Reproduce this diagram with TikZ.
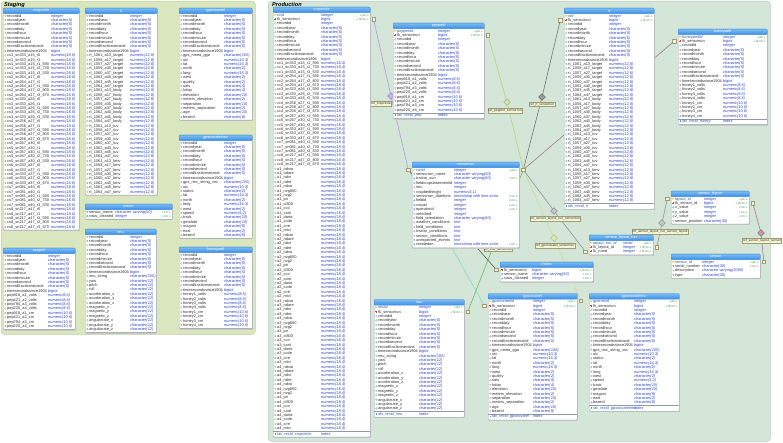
\documentclass[tikz,border=0pt]{standalone}
\usepackage{fontspec}
\setmainfont{Liberation Sans}
\usetikzlibrary{shapes.geometric}
\pgfdeclarelayer{bg}
\pgfdeclarelayer{edges}
\pgfdeclarelayer{tb}
\pgfsetlayers{bg,edges,tb,main}
\definecolor{stgfill}{HTML}{D9E6BE}
\definecolor{stgdraw}{HTML}{C2D2A0}
\definecolor{prdfill}{HTML}{D3E6D8}
\definecolor{prddraw}{HTML}{B5CCBA}
\definecolor{hdrA}{HTML}{7BBDF6}
\definecolor{hdrB}{HTML}{3A8DE2}
\definecolor{tbord}{HTML}{8F9CA8}
\definecolor{nmcol}{HTML}{2E2E2E}
\definecolor{tycol}{HTML}{2B42C0}
\definecolor{pkcol}{HTML}{2456B8}
\definecolor{mkcol}{HTML}{3A8A3A}
\definecolor{icgray}{HTML}{9A9A9A}
\definecolor{icblue}{HTML}{5A8FD8}
\definecolor{keyy}{HTML}{F2C21E}
\definecolor{fkred}{HTML}{D9432E}
\definecolor{lblfill}{HTML}{F6F6D2}
\definecolor{lblline}{HTML}{9C9C78}
\definecolor{cLil}{HTML}{B48EE6}
\definecolor{cYg}{HTML}{B8D070}
\definecolor{cGr}{HTML}{6E6E6E}
\definecolor{cMv}{HTML}{A8708A}
\definecolor{cLg}{HTML}{8E8E8E}
\definecolor{cLy}{HTML}{D2DA8E}
\definecolor{cGn}{HTML}{5CB85C}
\definecolor{cDk}{HTML}{555555}
\definecolor{cTl}{HTML}{86D6C6}
\tikzset{
  nmbase/.style={anchor=base west, inner sep=0pt, font=\fontsize{3.9}{3.9}\selectfont},
  nmn/.style={nmbase, text=nmcol},
  nmb/.style={nmbase, text=nmcol},
  nmf/.style={nmbase, text=nmcol},
  nmp/.style={nmbase, text=pkcol, font=\fontsize{3.9}{3.9}\selectfont\itshape},
  nmi/.style={nmbase, text=pkcol, font=\fontsize{3.9}{3.9}\selectfont\itshape},
  ty/.style={anchor=base west, inner sep=0pt, text=tycol, font=\fontsize{3.9}{3.9}\selectfont\itshape},
  mkr/.style={anchor=base east, inner sep=0pt, text=mkcol, font=\fontsize{3.1}{3.1}\selectfont},
  hdr/.style={top color=hdrA, bottom color=hdrB, draw=hdrB, line width=0.3pt, text=white,
    inner sep=0pt, rounded corners=0.8pt, font=\fontsize{3.8}{3.8}\selectfont},
  tbody/.style={draw=tbord, fill=white, line width=0.35pt, inner sep=0pt, rounded corners=0.8pt},
  shad/.style={fill=black!22},
  icg/.style={draw=icgray, line width=0.25pt},
  icb/.style={draw=icblue, line width=0.3pt},
  sepl/.style={draw=tbord, line width=0.3pt},
  mkbox/.style={rectangle, draw=lblline, fill=lblfill, line width=0.25pt, minimum width=3.4pt, minimum height=3.4pt, inner sep=0pt},
  dia/.style={diamond, aspect=1, minimum size=7pt, inner sep=0pt, line width=0.3pt},
  lbl/.style={fill=lblfill, draw=lblline, line width=0.25pt, inner sep=0.6pt, text=nmcol, font=\fontsize{3.3}{3.3}\selectfont},
  rel/.style={line width=0.55pt},
  ptitle/.style={anchor=west, inner sep=0pt, font=\fontsize{5.6}{5.6}\selectfont\bfseries\itshape}
}
\catcode`\_=12
\newcounter{rc}
\newcommand\ICn[2]{\draw[icg] (#1,#2) circle (0.85pt);}
\newcommand\ICb[2]{\draw[icb] (#1,#2) circle (0.85pt);}
\newcommand\ICf[2]{\fill[fkred] (#1,#2) ++(-1,-0.35) rectangle ++(2,0.7); \fill[fkred] (#1,#2) ++(-0.35,-1) rectangle ++(0.7,2);}
\newcommand\ICp[2]{\fill[keyy] (#1,#2) ++(-1.1,-1) -- ++(2.3,1) -- ++(-2.3,1) -- cycle;}
\newcommand\ICi[2]{\fill[icblue] (#1,#2) ++(-0.9,-0.9) rectangle ++(1.8,1.8);}
\newcommand\tabS[6]{%
  \gdef\Qn{#1}\gdef\Qx{#2}\gdef\Qy{#3}\gdef\Qw{#4}\gdef\Qo{#5}\gdef\Qix{0}%
  \setcounter{rc}{0}%
  \node[hdr, minimum width=#4pt, minimum height=5.5pt, anchor=north west] (#1h) at (#2,#3) {#6};%
}
\newcommand\tabR[4]{%
  \stepcounter{rc}%
  \pgfmathsetmacro\Qry{\Qy+5.5+(\number\value{rc}-0.5)*4.4}%
  \csname IC#1\endcsname{\Qx+2.4}{\Qry}%
  \node[nm#1] (\Qn n\number\value{rc}) at (\Qx+4.0,\Qry+1.4) {#2};%
  \node[ty] (\Qn t\number\value{rc}) at (\Qx+\Qo,\Qry+1.4) {#3};%
  \node[mkr] (\Qn m\number\value{rc}) at (\Qx+\Qw-1.3,\Qry+1.4) {#4};%
}
\newcommand\tabI[1]{%
  \pgfmathsetmacro\Qry{\Qy+5.5+\number\value{rc}*4.4}%
  \draw[sepl] (\Qx,\Qry+0.6) -- (\Qx+\Qw,\Qry+0.6);%
  \ICi{\Qx+2.4}{\Qry+3.1}%
  \node[nmi] (\Qn ix) at (\Qx+4.0,\Qry+4.5) {#1};%
  \node[ty] (\Qn it) at (\Qx+\Qo,\Qry+4.5) {index};%
  \gdef\Qix{5.5}%
}
\newcommand\tabE{%
  \pgfmathsetmacro\Qh{5.5+\number\value{rc}*4.4+\Qix+0.9}%
  \begin{pgfonlayer}{tb}%
    \fill[shad] (\Qx+1.3,\Qy+1.3) rectangle ++(\Qw,\Qh);%
    \node[tbody, minimum width=\Qw pt, minimum height=\Qh pt, anchor=north west] (\Qn) at (\Qx,\Qy) {};%
  \end{pgfonlayer}%
}
\newcommand\baseRows{%
  \tabR{n}{recordid}{integer}{}%
  \tabR{n}{recordyear}{character(5)}{}%
  \tabR{n}{recordmonth}{character(5)}{}%
  \tabR{n}{recordday}{character(5)}{}%
  \tabR{n}{recordhour}{character(5)}{}%
  \tabR{n}{recordminute}{character(5)}{}%
  \tabR{n}{recordsecond}{character(5)}{}%
  \tabR{n}{recordfractionsecond}{character(5)}{}%
  \tabR{n}{timesecondssince1904}{bigint}{}%
}
\newcommand\keyRows[1]{%
  \tabR{p}{#1}{integer}{« pk »}%
  \tabR{f}{fk_sensorrun}{bigint}{« fk nn »}%
}
\newcommand\imuRows{%
  \tabR{n}{imu_string}{character(100)}{}%
  \foreach \ga in {yaw,pitch,roll,acceleration_x,acceleration_y,acceleration_z,magnetic_x,magnetic_y,magnetic_z,angularrate_x,angularrate_y,angularrate_z}{\tabR{n}{\ga}{character(12)}{}}%
}
\newcommand\pepRows{%
  \foreach \ga in {pep918_a1,pep421_a2,pep794_a3,pep220_a4}{\tabR{n}{\ga_volts}{numeric(8,6)}{}}%
  \foreach \ga in {pep918_a1,pep421_a2,pep794_a3,pep220_a4}{\tabR{n}{\ga_cm}{numeric(10,6)}{}}%
}
\newcommand\honRows{%
  \foreach \ga in {1,2,3,4}{\tabR{n}{honey\ga_volts}{numeric(8,6)}{}}%
  \foreach \ga in {1,2,3,4}{\tabR{n}{honey\ga_cm}{numeric(10,6)}{}}%
}
\newcommand\ggaRows{%
  \tabR{n}{gps_nmea_gga}{character(100)}{}%
  \tabR{n}{utc}{numeric(10,3)}{}%
  \tabR{n}{lat}{numeric(16,3)}{}%
  \tabR{n}{north}{character(2)}{}%
  \tabR{n}{long}{numeric(16,3)}{}%
  \tabR{n}{west}{character(2)}{}%
  \tabR{n}{quality}{character(2)}{}%
  \tabR{n}{sats}{character(4)}{}%
  \tabR{n}{hdop}{character(4)}{}%
  \tabR{n}{elevation}{character(10)}{}%
  \tabR{n}{meters_elevation}{character(2)}{}%
  \tabR{n}{separation}{character(10)}{}%
  \tabR{n}{meters_separation}{character(2)}{}%
  \tabR{n}{age}{character(10)}{}%
  \tabR{n}{baseid}{character(8)}{}%
}
\newcommand\rmcRows{%
  \tabR{n}{gps_rmc_string_vnc}{character(100)}{}%
  \tabR{n}{utc}{numeric(10,3)}{}%
  \tabR{n}{status}{character(2)}{}%
  \tabR{n}{lat}{numeric(16,3)}{}%
  \tabR{n}{north}{character(2)}{}%
  \tabR{n}{long}{numeric(16,3)}{}%
  \tabR{n}{west}{character(2)}{}%
  \tabR{n}{speed}{numeric(5,2)}{}%
  \tabR{n}{track}{character(10)}{}%
  \tabR{n}{geodate}{character(10)}{}%
  \tabR{n}{magvar}{character(8)}{}%
  \tabR{n}{east}{character(2)}{}%
  \tabR{n}{baseid}{character(8)}{}%
}
\newcommand\rtRows{%
  \foreach \gb in {target,body,tuv,bmv}{%
    \foreach \ga in {1061_a13,1058_a17,1057_a27,1059_a30,1060_a37,1062_a40,1063_a45,1064_a47}{\tabR{n}{rt_\ga_\gb}{numeric(12,8)}{}}}%
}
\begin{document}
\begin{tikzpicture}[x=1pt,y=-1pt]
\useasboundingbox (0,0) rectangle (783,443);
\begin{pgfonlayer}{bg}
  \fill[white] (0,0) rectangle (783,443);
  \node[draw=stgdraw, fill=stgfill, rounded corners=3pt, line width=0.5pt, minimum width=254pt, minimum height=333pt, anchor=north west, inner sep=0pt] (stg) at (1,1) {};
  \node[draw=prddraw, fill=prdfill, rounded corners=3pt, line width=0.5pt, minimum width=502pt, minimum height=440pt, anchor=north west, inner sep=0pt] (prd) at (268,1) {};
  \node[ptitle] (stgT) at (4,5) {Staging};
  \node[ptitle] (prdT) at (272,5) {Production};
\end{pgfonlayer}

% ---------------- relationships ----------------
\begin{pgfonlayer}{edges}
  \node[mkbox] (mC) at (373.5,19.1) {};
  \node[mkbox] (mP) at (487.8,35.1) {};
  \node[mkbox] (mR) at (560.3,20.1) {};
  \node[mkbox] (mH) at (674.3,41.1) {};
  \node[mkbox] (mL) at (408.3,169.7) {};
  \node[mkbox] (mJ) at (523.3,169.7) {};
  \node[mkbox] (mE) at (496.3,269.7) {};
  \node[mkbox] (mI) at (467.8,311.6) {};
  \node[mkbox] (mG) at (484.3,305.6) {};
  \node[mkbox] (mG2) at (580.8,300.5) {};
  \node[mkbox] (mS) at (585.3,251.5) {};
  \node[mkbox] (mS2) at (656.8,247.1) {};
  \node[mkbox] (mL1) at (667.3,198.7) {};
  \node[mkbox] (mL2) at (752.8,203.1) {};
  \node[mkbox] (mSe) at (763.8,261.7) {};
  \node[dia, fill=cLil!70, draw=cLil!80!black] (dC) at (391,96) {};
  \node[dia, fill=cYg!60, draw=cYg!80!black] (dP) at (507,102) {};
  \node[dia, fill=cGr!70, draw=cGr!80!black] (dR) at (542,97) {};
  \node[dia, fill=cLg!50, draw=cLg!90!black] (dS) at (554,211) {};
  \node[dia, fill=cLy!60, draw=cLy!80!black] (dG) at (554,238) {};
  \node[dia, fill=cLg!50, draw=cLg!90!black] (dL1) at (662,223) {};
  \node[dia, fill=cMv!70, draw=cMv!80!black] (dL2) at (761,233) {};
  \draw[rel, cLil] (mC) -- (dC) -- (mL);
  \draw[rel, cYg] (mP) -- (dP) -- (mJ);
  \draw[rel, cGr] (mR) -- (dR) -- (mJ);
  \draw[rel, cMv] (mH) -- (mJ);
  \draw[rel, cLg] (mJ) -- (dS) -- (mS);
  \draw[rel, cLy] (mJ) -- (dG) -- (mG2);
  \draw[rel, cGn] (mJ) -- (mI);
  \draw[rel, cDk] (mL) -- (mE);
  \draw[rel, cTl] (mL) -- (mG);
  \draw[rel, cLg] (mL1) -- (dL1) -- (mS2);
  \draw[rel, cMv] (mL2) -- (dL2) -- (mSe);
  \node[lbl] (lC) at (381,103.5) {ref_crspcircle};
  \node[lbl] (lP) at (505,110.5) {ref_pepperl_sensorrun};
  \node[lbl] (lR) at (542,104.5) {ref_rt_sensorrun};
  \node[lbl] (lS) at (555,218.5) {ref_sensor_layout_run_sensorrun};
  \node[lbl] (lG) at (555,245.5) {ref_gpsnovatel_sensorrun};
  \node[lbl] (lI) at (498,249.5) {ref_imu_sensorrun};
  \node[lbl] (lL1) at (660,231.5) {ref_sensor_layout_run_sensor_layout};
  \node[lbl] (lL2) at (762,240.5) {ref_sensor_layout_sensor};
\end{pgfonlayer}

% ---------------- Staging ----------------
\tabS{sC}{3}{8}{76}{48}{crspcircle}
\baseRows
\foreach \ka/\kb/\kc/\kd/\ke/\kf in {1/333/15/590/730/530,2/264/17/590/800/670,3/333/26/590/730/530,4/256/27/590/800/670,5/267/30/590/730/530,6/333/37/590/800/670,7/081/40/590/730/530,8/217/47/590/800/670}{%
  \tabR{n}{cs\ka_sn\kb_a\kc_r0}{numeric(18,6)}{}%
  \tabR{n}{cs\ka_sn\kb_a\kc_r1}{numeric(18,6)}{}%
  \tabR{n}{cs\ka_sn\kb_a\kc_r1_\kd}{numeric(18,6)}{}%
  \tabR{n}{cs\ka_sn\kb_a\kc_r2_\ke}{numeric(18,6)}{}%
  \tabR{n}{cs\ka_sn\kb_a\kc_r3_\kf}{numeric(18,6)}{}%
}
\tabE

\tabS{sR}{85}{8}{72}{45}{rt}
\baseRows
\rtRows
\tabE

\tabS{sE}{85}{204}{87}{30}{errors}
\tabR{b}{sensor_name}{character varying(50)}{« nn »}
\tabR{b}{rows_cleaned}{integer}{« nn »}
\tabE

\tabS{sI}{85}{229}{71}{45}{imu}
\baseRows
\imuRows
\tabE

\tabS{sP}{3}{248}{72}{45}{pepperl}
\baseRows
\pepRows
\tabE

\tabS{sG}{179}{8}{73}{45}{gpsnovatel}
\baseRows
\ggaRows
\tabE

\tabS{sGR}{179}{135}{73}{45}{gpsnovatelrmc}
\baseRows
\rmcRows
\tabE

\tabS{sH}{179}{247}{73}{45}{honeywell}
\baseRows
\honRows
\tabE

% ---------------- Production ----------------
\tabS{pC}{273}{7}{97}{48}{crspcircle}
\keyRows{ccid}
\baseRows
\foreach \ka/\kb/\kc/\kd/\ke/\kf in {1/333/15/590/730/530,2/264/17/590/800/670,3/333/26/590/730/530,4/256/27/590/800/670,5/267/30/590/730/530,6/333/37/590/800/670,7/081/40/590/730/530,8/217/47/590/800/670}{%
  \tabR{n}{cc\ka_sn\kb_a\kc_r1_\kd}{numeric(18,4)}{}%
  \tabR{n}{cc\ka_sn\kb_a\kc_r2_\ke}{numeric(18,4)}{}%
  \tabR{n}{cc\ka_sn\kb_a\kc_r3_\kf}{numeric(18,4)}{}%
}
\foreach \ga in {a1,a2,a3,a4}{\foreach \gb in {ndvia,ndare,ndvr,ndre,ndva,nvg800,nvg2,pri,cl800,cco,cant,darta,ccde,cire,mtci}{\tabR{n}{\ga_\gb}{numeric(18,4)}{}}}
\tabI{idx_recid_crspcircle}
\tabE

\tabS{pP}{393}{23}{91}{45}{pepperl}
\keyRows{pepperlid}
\baseRows
\pepRows
\tabI{idx_recid_pep}
\tabE

\tabS{pS}{412}{162}{107}{42}{sensorrun}
\tabR{p}{runid}{integer}{« pk »}
\tabR{n}{sensorrun_name}{character varying(50)}{}
\tabR{b}{tractor_sun}{character varying(50)}{« nn »}
\tabR{n}{fieldcropstreatmentid}{integer}{}
\tabR{n}{imu}{integer}{}
\tabR{n}{cropbedheight}{numeric(4,1)}{}
\tabR{b}{sensorrun_datetime}{timestamp with time zone}{« nn »}
\tabR{b}{fieldid}{integer}{« nn »}
\tabR{b}{cropid}{integer}{« nn »}
\tabR{b}{operatorid}{integer}{« nn »}
\tabR{n}{vehicleid}{integer}{}
\tabR{n}{field_orientation}{character varying(50)}{}
\tabR{n}{weather_conditions}{text}{}
\tabR{n}{field_conditions}{text}{}
\tabR{n}{tractor_conditions}{text}{}
\tabR{n}{sensor_conditions}{text}{}
\tabR{n}{unexpected_events}{text}{}
\tabR{b}{createdon}{timestamp with time zone}{« nn »}
\tabE

\tabS{pI}{374}{299.5}{90}{45}{imu}
\keyRows{imuid}
\baseRows
\imuRows
\tabI{idx_recid_imu}
\tabE

\tabS{pE}{500}{262}{93}{32}{errors}
\tabR{f}{fk_sensorrun}{bigint}{« fk nn »}
\tabR{b}{sensor_name}{character varying(50)}{« nn »}
\tabR{b}{rows_cleaned}{integer}{« nn »}
\tabE

\tabS{pG}{488}{293.5}{89}{45}{gpsnovatel}
\keyRows{gpsnovatelid}
\baseRows
\ggaRows
\tabI{idx_recid_gpsnovatel}
\tabE

\tabS{pGR}{589}{293.5}{90}{45}{gpsnovatelrmc}
\keyRows{gpsrmcid}
\baseRows
\rmcRows
\tabI{idx_recid_gpsnovatelrmc}
\tabE

\tabS{pR}{564}{8}{90}{45}{rt}
\keyRows{rtid}
\baseRows
\rtRows
\tabI{idx_recid_rt}
\tabE

\tabS{pH}{678}{29}{89}{45}{honeywell}
\keyRows{honeywellid}
\baseRows
\honRows
\tabI{idx_recid_honey}
\tabE

\tabS{pSLR}{589}{235}{64}{34}{sensor_layout_run}
\tabR{p}{layout_run_id}{serial}{« pk »}
\tabR{f}{fk_layout_id}{integer}{« fk nn »}
\tabR{f}{fk_runid}{integer}{« fk nn »}
\tabE

\tabS{pSL}{671}{191}{78}{33}{sensor_layout}
\tabR{p}{layout_id}{integer}{« pk »}
\tabR{f}{fk_sensor_id}{bigint}{« fk nn »}
\tabR{b}{x_value}{integer}{« nn »}
\tabR{b}{y_value}{integer}{« nn »}
\tabR{b}{z_value}{integer}{« nn »}
\tabR{n}{sensor_position}{character(30)}{}
\tabE

\tabS{pSe}{671}{254}{89}{31}{sensor}
\tabR{p}{sensor_id}{integer}{« pk »}
\tabR{b}{serial_number}{character(30)}{« nn »}
\tabR{n}{description}{character varying(3000)}{}
\tabR{n}{type}{character(30)}{}
\tabE
\end{tikzpicture}
\end{document}
